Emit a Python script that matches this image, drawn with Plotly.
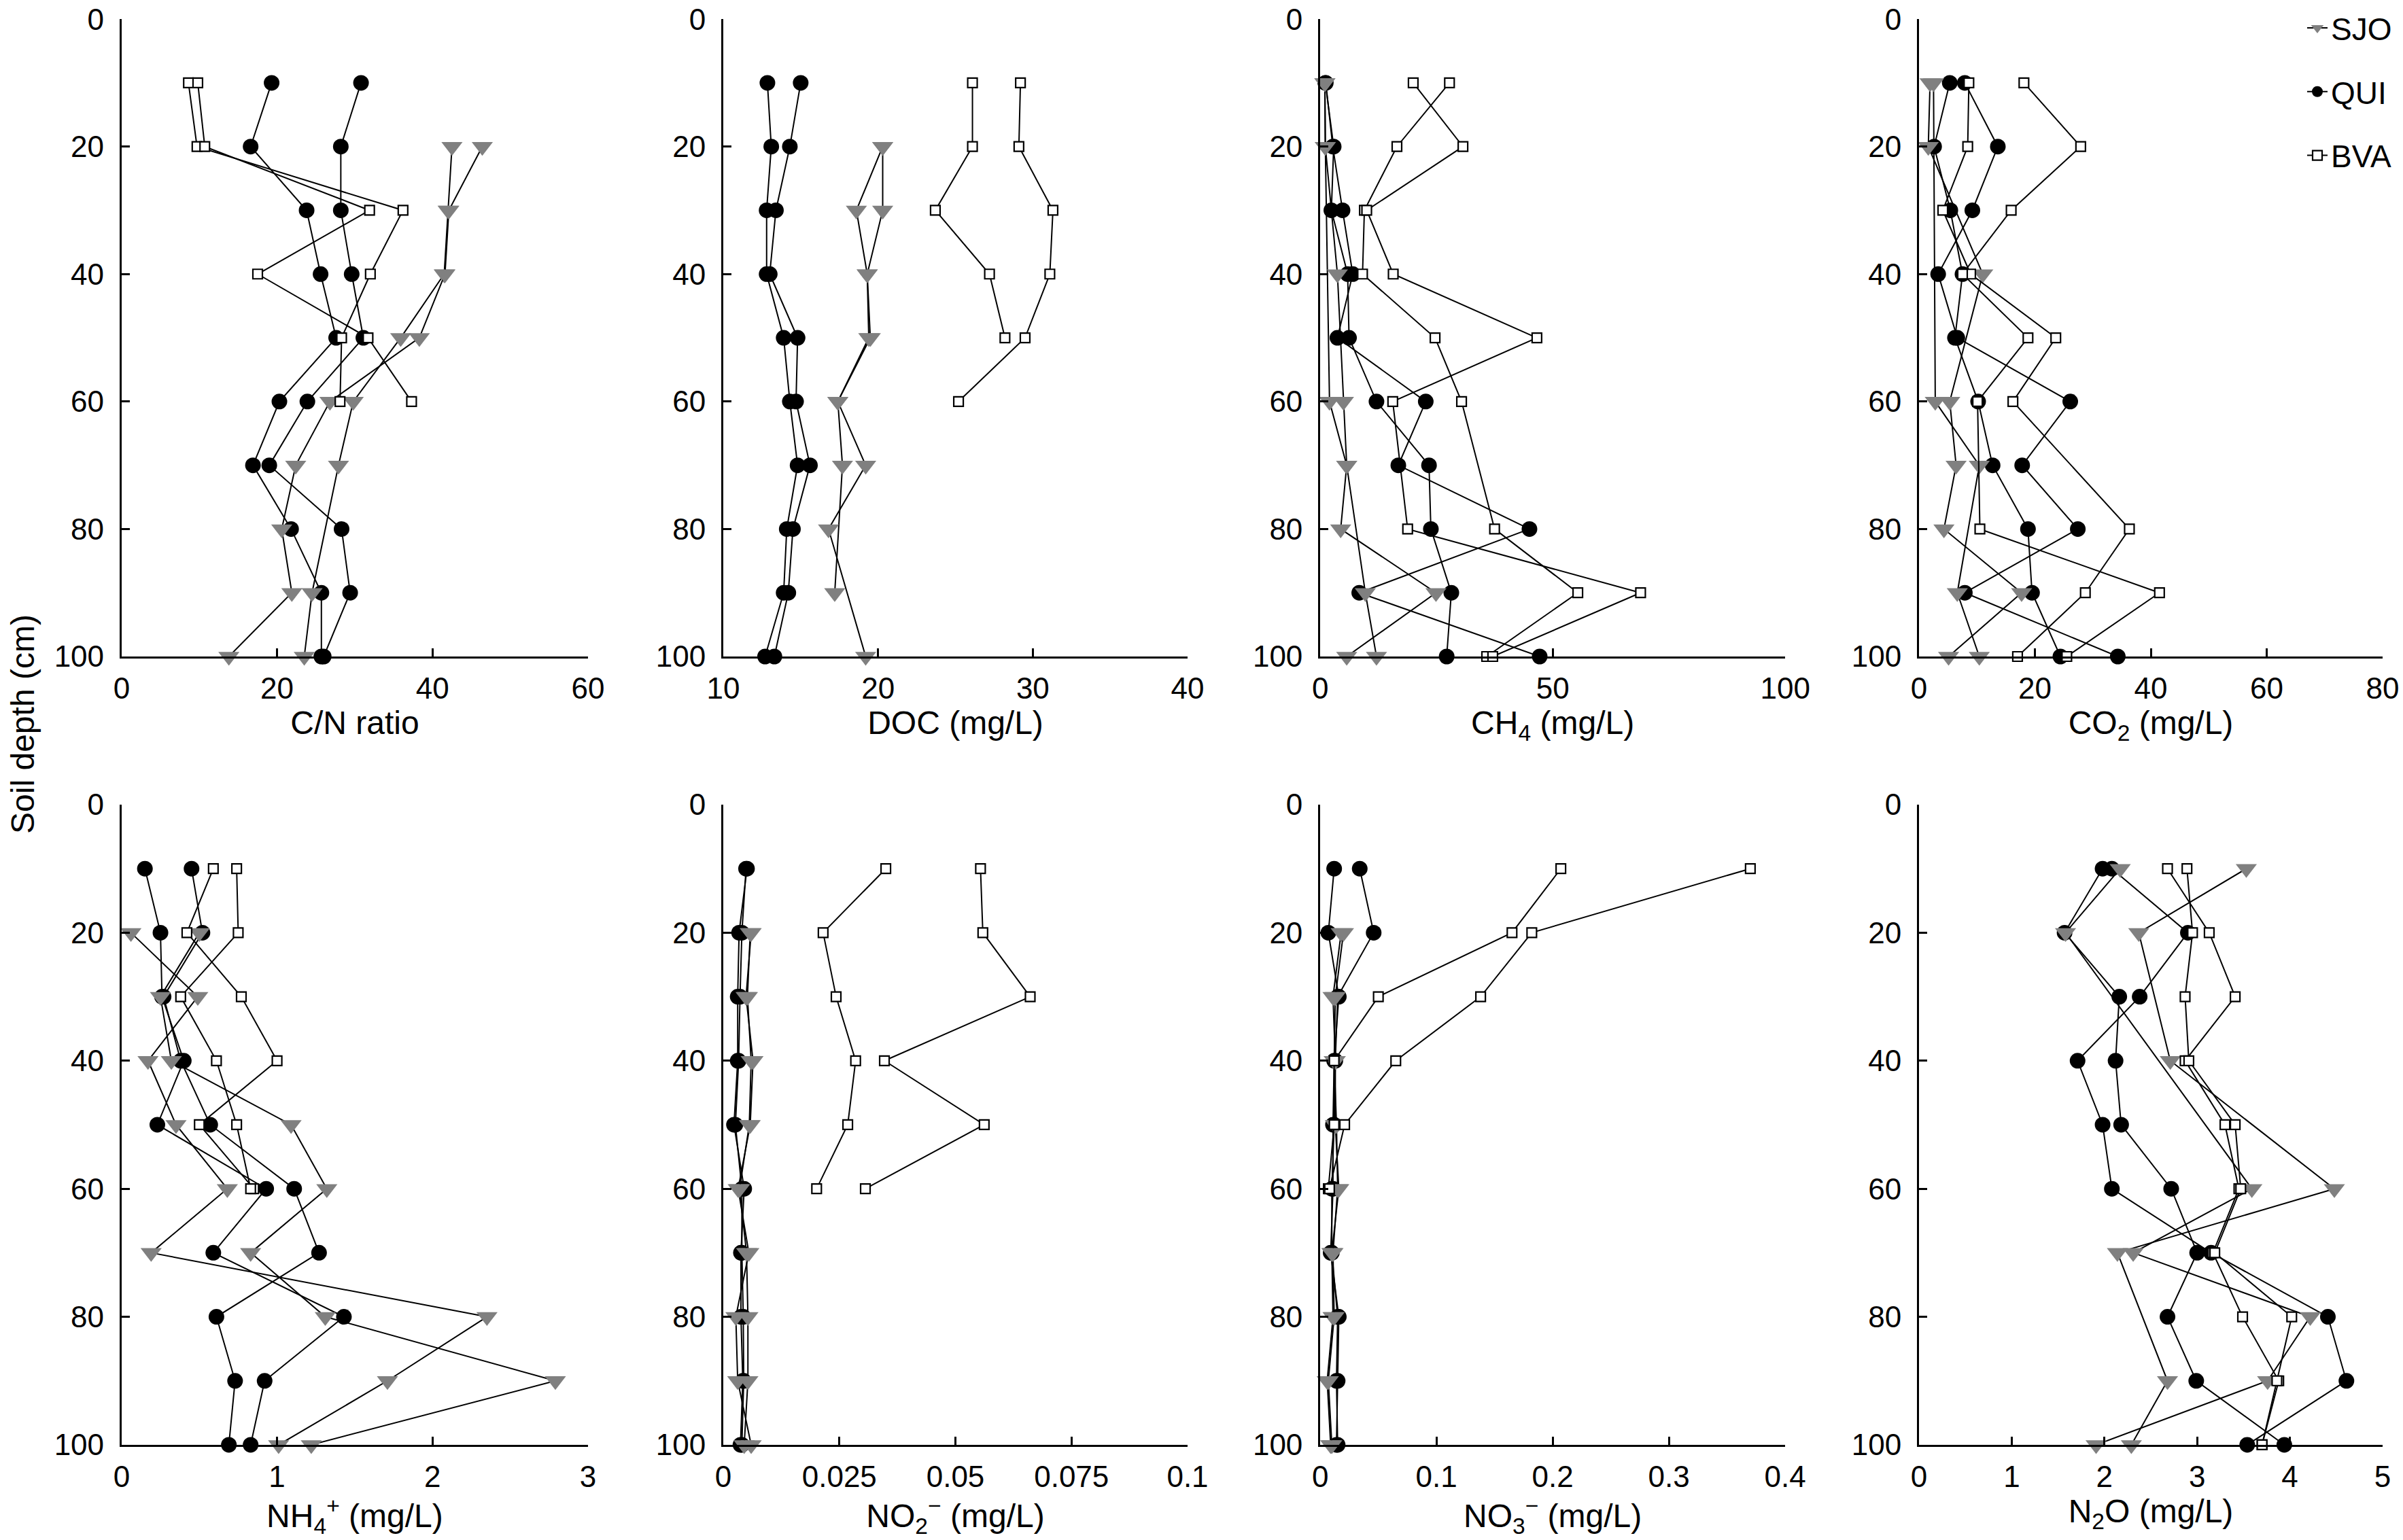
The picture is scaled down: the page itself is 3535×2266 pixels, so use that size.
import plotly.graph_objects as go

# soil depth (cm) for every sampling point
depth = [10, 20, 30, 40, 50, 60, 70, 80, 90, 100]

cn_sjo = [[None, 42.5, 42.0, 41.5, 35.9, 29.8, 27.9, None, 24.5, 23.5],
          [None, 46.4, 42.1, 41.6, 38.3, 26.8, 22.4, 20.6, 21.9, 13.8]]
cn_qui = [[19.3, 16.6, 23.8, 25.6, 27.6, 20.3, 16.9, 21.8, 25.7, 25.7],
          [30.8, 28.2, 28.2, 29.6, 31.1, 23.9, 19.0, 28.3, 29.4, 26.0]]
cn_bva = [[8.6, 9.7, 36.2, 32.0, 28.3, 28.1],
          [9.8, 10.7, 31.9, 17.5, 31.7, 37.3]]

doc_sjo = [[None, 20.3, 20.3, 19.3, 19.5, 17.4, 17.7, None, 17.2],
           [None, 20.3, 18.6, 19.3, 19.4, 17.4, 19.2, 16.8, None, 19.2]]
doc_qui = [[12.85, 13.1, 12.8, 12.8, 13.9, 14.3, 14.8, 14.1, 13.9, 12.7],
           [15.0, 14.3, 13.4, 13.0, 14.8, 14.7, 15.6, 14.5, 14.2, 13.3]]
doc_bva = [[26.1, 26.1, 23.7, 27.2, 28.2],
           [29.2, 29.1, 31.3, 31.1, 29.5, 25.2]]

ch4_sjo = [[1.0, 1.1, None, None, None, 2.0, 5.7, None, 9.7, 12.1],
           [1.0, 1.1, None, 3.7, None, 5.0, 5.7, 4.4, 24.9, 5.7]]
ch4_qui = [[1.1, 2.9, 2.4, 5.9, 6.2, 12.1, 23.4, 23.8, 28.2, 27.2],
           [1.2, 2.7, 4.8, 7.0, 3.7, 22.7, 16.8, 45.0, 8.4, 47.2]]
ch4_bva = [[27.8, 16.5, 9.5, 9.1, 24.7, 30.4, None, 37.5, 55.4, 35.8],
           [20.0, 30.7, 10.0, 15.7, 46.6, 15.6, None, 18.8, 68.9, 37.1]]

co2_sjo = [[2.5, None, None, None, None, 2.8, 10.4, None, 6.6, 10.4],
           [1.9, 1.6, None, 11.0, None, 5.3, 6.4, 4.3, 17.7, 5.1]]
co2_qui = [[5.3, 2.6, 5.4, 7.5, 6.2, 10.2, 12.7, 18.8, 19.5, 24.4],
           [7.9, 13.6, 9.2, 3.3, 6.6, 26.1, 17.8, 27.4, 7.9, 34.3]]
co2_bva = [[8.6, 8.4, 4.1, 8.9, 23.6, 16.2, None, 36.3, 28.7, 17.0],
           [18.1, 27.9, 15.9, 7.5, 18.8, 10.1, None, 10.5, 41.5, 25.5]]

nh4_sjo = [[None, 0.06, 0.49, 0.17, 0.35, 0.68, 0.19, 2.35, 1.71, 1.01],
           [None, 0.50, 0.25, 0.32, 1.09, 1.32, 0.83, 1.31, 2.79, 1.22]]
nh4_qui = [[0.15, 0.25, 0.26, 0.40, 0.23, 0.93, 0.59, 1.43, 0.92, 0.83],
           [0.45, 0.52, 0.27, 0.38, 0.57, 1.11, 1.27, 0.61, 0.73, 0.69]]
nh4_bva = [[0.59, 0.42, 0.77, 1.00, 0.50, 0.85],
           [0.74, 0.75, 0.38, 0.61, 0.74, 0.83]]

no2_sjo = [[None, 0.0060, 0.0049, 0.0064, 0.0058, 0.0032, 0.0055, 0.0027, 0.0031, 0.0060],
           [None, 0.0058, 0.0052, 0.0060, 0.0056, 0.0035, 0.0050, 0.0053, 0.0053, 0.0045]]
no2_qui = [[0.0051, 0.0034, 0.0031, 0.0031, 0.0023, 0.0045, 0.0038, 0.0038, 0.0042, 0.0037],
           [0.0049, 0.0040, 0.0036, 0.0033, 0.0026, 0.0040, 0.0040, 0.0043, 0.0044, 0.0040]]
no2_bva = [[0.0350, 0.0215, 0.0243, 0.0285, 0.0268, 0.0201],
           [0.0554, 0.0559, 0.0661, 0.0347, 0.0562, 0.0306]]

no3_sjo = [[None, 0.018, 0.011, 0.013, 0.013, 0.016, 0.010, 0.011, 0.006, 0.009],
           [None, 0.020, 0.013, 0.012, 0.014, 0.015, 0.011, 0.012, 0.007, 0.010]]
no3_qui = [[0.012, 0.007, 0.016, 0.012, 0.011, 0.011, 0.009, 0.016, 0.015, 0.014],
           [0.034, 0.046, 0.015, 0.013, 0.012, 0.010, 0.010, 0.015, 0.014, 0.015]]
no3_bva = [[0.207, 0.165, 0.050, 0.012, 0.012, 0.007],
           [0.370, 0.182, 0.138, 0.065, 0.021, 0.008]]

n2o_sjo = [[3.53, 2.37, None, 2.71, None, 4.48, 2.14, None, 2.68, 2.29],
           [2.17, 1.58, None, None, None, 3.59, 2.31, 4.22, 3.76, 1.91]]
n2o_qui = [[1.98, 1.57, 2.16, 2.12, 2.18, 2.72, 3.00, 2.68, 2.99, 3.94],
           [2.08, 2.90, 2.38, 1.71, 1.98, 2.08, 3.15, 4.41, 4.61, 3.54]]
n2o_bva = [[2.68, 3.13, 3.41, 2.87, 3.30, 3.45, 3.17, 3.49, 3.88, 3.70],
           [2.89, 2.95, 2.87, 2.91, 3.41, 3.47, 3.19, 4.02, 3.86, 3.70]]

axis_titles = ["C/N ratio", "DOC (mg/L)", "CH<sub>4</sub> (mg/L)", "CO<sub>2</sub> (mg/L)",
               "NH<sub>4</sub><sup>+</sup> (mg/L)", "NO<sub>2</sub><sup>\u2212</sup> (mg/L)",
               "NO<sub>3</sub><sup>\u2212</sup> (mg/L)", "N<sub>2</sub>O (mg/L)"]
x_ranges = [[0, 60], [10, 40], [0, 100], [0, 80], [0, 3], [0, 0.1], [0, 0.4], [0, 5]]
x_dticks = [20, 10, 50, 20, 1, 0.025, 0.1, 1]

panels = [(cn_sjo, cn_qui, cn_bva), (doc_sjo, doc_qui, doc_bva),
          (ch4_sjo, ch4_qui, ch4_bva), (co2_sjo, co2_qui, co2_bva),
          (nh4_sjo, nh4_qui, nh4_bva), (no2_sjo, no2_qui, no2_bva),
          (no3_sjo, no3_qui, no3_bva), (n2o_sjo, n2o_qui, n2o_bva)]

FONT = "Liberation Sans, Arial, sans-serif"
col_domains = [(0.0506, 0.2447), (0.3010, 0.4942), (0.5494, 0.7429), (0.7986, 0.9915)]
row_domains = [(0.5737, 0.9876), (0.0618, 0.4775)]

# marker style per site
styles = {
    "SJO": dict(symbol="triangle-down", size=27, color="#808080", line=dict(width=0)),
    "QUI": dict(symbol="circle", size=23, color="black", line=dict(width=0)),
    "BVA": dict(symbol="square", size=14, color="white", line=dict(width=2.2, color="black")),
}
rank = {"SJO": 1, "QUI": 2, "BVA": 3}

fig = go.Figure()

for i, (sjo, qui, bva) in enumerate(panels):
    n = i + 1
    xa = "x" if n == 1 else f"x{n}"
    ya = "y" if n == 1 else f"y{n}"
    # draw order: QUI, SJO, BVA on top
    for site, profiles in (("QUI", qui), ("SJO", sjo), ("BVA", bva)):
        for j, prof in enumerate(profiles):
            fig.add_trace(go.Scatter(
                x=prof, y=depth[:len(prof)],
                xaxis=xa, yaxis=ya,
                mode="lines+markers",
                connectgaps=True,
                cliponaxis=False,
                line=dict(color="black", width=2),
                marker=styles[site],
                name=site,
                legendgroup=site,
                legendrank=rank[site],
                showlegend=(n == 1 and j == 0),
            ))

layout = dict(
    width=3535, height=2266,
    margin=dict(l=0, r=0, t=0, b=0),
    paper_bgcolor="white", plot_bgcolor="white",
    font=dict(family=FONT, size=44, color="black"),
    legend=dict(x=0.9587, y=0.998, xanchor="left", yanchor="top",
                font=dict(size=46), tracegroupgap=31,
                bgcolor="rgba(0,0,0,0)"),
)

for i in range(8):
    n = i + 1
    r, c = divmod(i, 4)
    xkey = "xaxis" if n == 1 else f"xaxis{n}"
    ykey = "yaxis" if n == 1 else f"yaxis{n}"
    layout[xkey] = dict(
        domain=col_domains[c], anchor="y" if n == 1 else f"y{n}",
        range=x_ranges[i], dtick=x_dticks[i], tick0=x_ranges[i][0],
        showgrid=False, zeroline=False, showline=True, linecolor="black", linewidth=3,
        ticks="inside", ticklen=12, tickwidth=2.5, tickcolor="black",
        tickfont=dict(size=44), ticklabelstandoff=6, ticklabeloverflow="allow",
        automargin=False, fixedrange=True,
        title=dict(text=axis_titles[i], font=dict(size=48), standoff=8),
    )
    layout[ykey] = dict(
        domain=row_domains[r], anchor="x" if n == 1 else f"x{n}",
        range=[100, 0], dtick=20, tick0=0,
        showgrid=False, zeroline=False, showline=True, linecolor="black", linewidth=3,
        ticks="inside", ticklen=12, tickwidth=2.5, tickcolor="black",
        tickfont=dict(size=44), ticklabelstandoff=14, ticklabeloverflow="allow",
        automargin=False, fixedrange=True,
    )

fig.update_layout(**layout)

fig.add_annotation(
    text="Soil depth (cm)", xref="paper", yref="paper",
    x=0.0093, y=0.530, textangle=-90, showarrow=False,
    font=dict(size=48), xanchor="center", yanchor="middle",
)

fig.write_html("out.html", config={"displayModeBar": False},
               post_script="document.body.style.margin='0px';")
